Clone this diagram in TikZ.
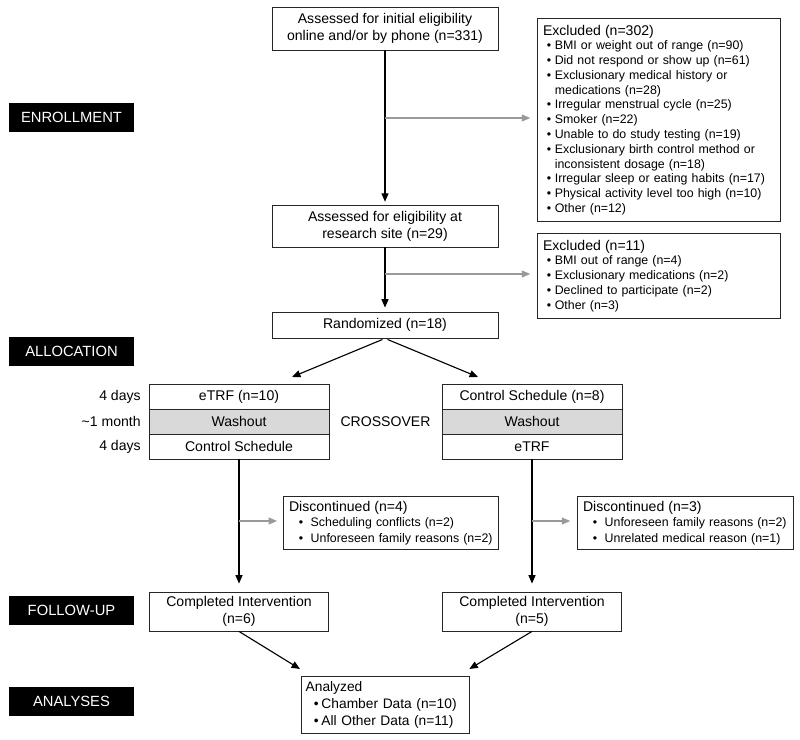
\documentclass[tikz,border=0pt]{standalone}
\usepackage{fontspec}
\setmainfont{Liberation Sans}
\usetikzlibrary{positioning}
\usetikzlibrary{arrows.meta,calc}
\definecolor{washgray}{RGB}{217,217,217}
\newcommand{\MAINX}{385}
\newcommand{\LEFTX}{239}
\newcommand{\RIGHTX}{532}
\newcommand{\SIDEX}{537}
\newcommand{\TAGX}{71.5}
\newcommand{\ITEM}{\hspace*{0.3em}\textbullet\hspace{0.3em}}
\newcommand{\ITEMW}{\hspace*{0.8em}\textbullet\hspace{0.6em}}
\newcommand{\ITEMN}{\hspace*{0.6em}\textbullet\hspace{0.2em}}
\newcommand{\CONT}{\hspace*{0.95em}}
\newcommand{\HEAD}{\fontsize{10}{12}\selectfont}

\begin{document}
\begin{tikzpicture}[x=0.025cm,y=-0.025cm]
\tikzstyle{every node}=[font=\fontsize{10}{12}\selectfont]
\tikzstyle{box}=[draw=black!85, line width=0.6pt, fill=white, align=center, inner sep=2pt]
\tikzstyle{listbox}=[draw=black!85, line width=0.6pt, anchor=north west, align=left, inner xsep=4pt, inner ysep=3pt, font=\fontsize{8.8}{10.5}\selectfont]
\tikzstyle{row}=[draw=black!85, line width=0.6pt, minimum width=4.5cm, minimum height=0.625cm, inner sep=0pt, outer sep=0pt]
\tikzstyle{tag}=[fill=black, text=white, minimum width=3.125cm, minimum height=0.72cm, font=\fontsize{10.5}{12}\selectfont]
\tikzstyle{arr}=[line width=0.8pt, -{Triangle[length=6pt,width=5pt]}]
\tikzstyle{garr}=[arr, draw=black!40, shorten >=0.17cm]
\useasboundingbox (0,0) rectangle (800,740);

% Phase tags
	\node[tag] (enroll) at (\TAGX,117.5) {ENROLLMENT};
	\node[tag] (alloc) at (\TAGX,351.5) {ALLOCATION};
	\node[tag] (follow) at (\TAGX,610.5) {FOLLOW-UP};
	\node[tag] (analy) at (\TAGX,701.5) {ANALYSES};

% Enrollment
	\node[box, minimum width=5.65cm, minimum height=1.075cm] (init) at (\MAINX,28.5) {Assessed for initial eligibility\\online and/or by phone (n=331)};
	\node[box, minimum width=5.65cm, minimum height=1.05cm] (site) at (\MAINX,226) {Assessed for eligibility at\\research site (n=29)};
	\node[box, minimum width=5.65cm, minimum height=0.65cm] (rand) at (\MAINX,325) {Randomized (n=18)};

	\node[listbox, text width=5.79cm, minimum height=5.075cm] (excl1) at (\SIDEX,18) {{\HEAD Excluded (n=302)}\\
\ITEM BMI or weight out of range (n=90)\\
\ITEM Did not respond or show up (n=61)\\
\ITEM Exclusionary medical history or\\
\CONT medications (n=28)\\
\ITEM Irregular menstrual cycle (n=25)\\
\ITEM Smoker (n=22)\\
\ITEM Unable to do study testing (n=19)\\
\ITEM Exclusionary birth control method or\\
\CONT inconsistent dosage (n=18)\\
\ITEM Irregular sleep or eating habits (n=17)\\
\ITEM Physical activity level too high (n=10)\\
\ITEM Other (n=12)};
	\node[listbox, text width=5.79cm, minimum height=2.125cm] (excl2) at (\SIDEX,233) {{\HEAD Excluded (n=11)}\\
\ITEM BMI out of range (n=4)\\
\ITEM Exclusionary medications (n=2)\\
\ITEM Declined to participate (n=2)\\
\ITEM Other (n=3)};

	\draw[arr, shorten >=0.07cm] (init) -- (site);
	\draw[arr, shorten >=0.1cm] (site) -- (rand);
	\coordinate (b1) at (\MAINX,118);
	\coordinate (b2) at (\MAINX,274);
	\draw[garr] (b1) -- (b1 -| excl1.west);
	\draw[garr] (b2) -- (b2 -| excl2.west);

% Allocation arms
	\node[row] (etrfA) at (\LEFTX,396.5) {eTRF (n=10)};
	\node[row, fill=washgray, below=0pt of etrfA] (washA) {Washout};
	\node[row, below=0pt of washA] (ctrlA) {Control Schedule};
	\node[row] (ctrlB) at (\RIGHTX,396.5) {Control Schedule (n=8)};
	\node[row, fill=washgray, below=0pt of ctrlB] (washB) {Washout};
	\node[row, below=0pt of washB] (etrfB) {eTRF};

	\node[inner sep=0pt, left=0.2cm of etrfA] (dayA) {4 days};
	\node[inner sep=0pt, left=0.2cm of washA] (month) {\textasciitilde1 month};
	\node[inner sep=0pt, left=0.2cm of ctrlA] (dayB) {4 days};
	\node (cross) at ($(washA.east)!0.5!(washB.west)$) {CROSSOVER};

	\coordinate (inA) at ($(etrfA.north)+(53,-7)$);
	\coordinate (inB) at ($(ctrlB.north)+(-54,-7)$);
	\draw[arr, shorten <=0.07cm] (rand.south) -- (inA);
	\draw[arr, shorten <=0.07cm] (rand.south) -- (inB);

% Discontinued
	\node[listbox, text width=5.09cm, minimum height=1.325cm, font=\fontsize{8.8}{11}\selectfont] (discA) at (283,496) {{\HEAD Discontinued (n=4)}\\
\ITEMW Scheduling conflicts (n=2)\\
\ITEMW Unforeseen family reasons (n=2)};
	\node[listbox, text width=5.12cm, minimum height=1.325cm, font=\fontsize{8.8}{11}\selectfont] (discB) at (577,496) {{\HEAD Discontinued (n=3)}\\
\ITEMW Unforeseen family reasons (n=2)\\
\ITEMW Unrelated medical reason (n=1)};

% Follow-up
	\node[box, minimum width=4.475cm, minimum height=0.975cm] (doneA) at (\LEFTX,611.5) {Completed Intervention\\(n=6)};
	\node[box, minimum width=4.475cm, minimum height=0.975cm] (doneB) at (\RIGHTX,611.5) {Completed Intervention\\(n=5)};

	\draw[arr, shorten >=0.2cm] (ctrlA) -- (doneA);
	\draw[arr, shorten >=0.2cm] (etrfB) -- (doneB);
	\coordinate (b3) at (\LEFTX,521);
	\coordinate (b4) at (\RIGHTX,521);
	\draw[garr, shorten >=0.15cm] (b3) -- (b3 -| discA.west);
	\draw[garr, shorten >=0.17cm] (b4) -- (b4 -| discB.west);

% Analyses
	\node[listbox, text width=4.0cm, inner xsep=3pt, minimum height=1.425cm, font=\fontsize{9.8}{11.8}\selectfont] (anl) at (301,676) {Analyzed\\
\ITEMN Chamber Data (n=10)\\
\ITEMN All Other Data (n=11)};

	\coordinate (inC) at ($(anl.north west)+(-1,-7)$);
	\coordinate (inD) at ($(anl.north east)+(-1,-7)$);
	\draw[arr] (doneA.south) -- (inC);
	\draw[arr] (doneB.south) -- (inD);

\end{tikzpicture}
\end{document}
